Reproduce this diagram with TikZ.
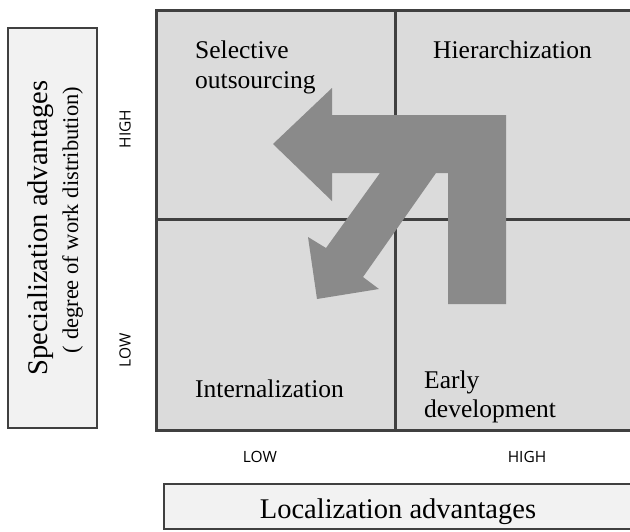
\documentclass[tikz,border=0pt]{standalone}
\usepackage{fontspec}
\setmainfont{Liberation Serif}
\newfontfamily\levelfont{Open Sans}
\usepackage{tikz}
\usetikzlibrary{positioning}

\begin{document}
\begin{tikzpicture}[x=1pt, y=-1pt,
    quadrant/.style = {draw=black!75, line width=2.6pt, fill=black!14, anchor=north west, inner sep=0pt},
    axisbox/.style = {draw=black!75, line width=2.6pt, fill=black!5, inner sep=0pt},
    quadlabel/.style = {anchor=base west, inner sep=0pt, font=\fontsize{25.5}{30}\selectfont},
    axistitle/.style = {anchor=base, inner sep=0pt, font=\fontsize{28.5}{34}\selectfont},
    axisnote/.style = {anchor=base, inner sep=0pt, font=\fontsize{22.5}{27}\selectfont},
    level/.style = {inner sep=0pt, font=\levelfont\fontsize{15.5}{18}\selectfont},
    bigarrow/.style = {fill=black!46}
]
\clip (0,0) rectangle (630,531);

% Quadrants
\node (selq) [quadrant, minimum width=239pt, minimum height=209pt] at (155, 9) {};
\node (hieq) [quadrant, minimum width=239pt, minimum height=209pt] at (394, 9) {};
\node (intq) [quadrant, minimum width=239pt, minimum height=211pt] at (155, 218) {};
\node (earq) [quadrant, minimum width=239pt, minimum height=211pt] at (394, 218) {};

% Movement between the strategies
\fill [bigarrow] (273, 144) -- (332, 88) -- (332, 115) -- (506, 115) -- (506, 304)
    -- (448, 304) -- (448, 173) -- (436, 173) -- (363, 277) -- (379, 289)
    -- (317, 299) -- (308, 237) -- (326, 248) -- (380, 173) -- (332, 173)
    -- (332, 201) -- cycle;

% Strategy labels
\node (sel1) [quadlabel] at (195, 58) {Selective};
\node (sel2) [quadlabel] at (195, 88) {outsourcing};
\node (hie) [quadlabel] at (433, 58) {Hierarchization};
\node (int) [quadlabel] at (195, 397) {Internalization};
\node (ear1) [quadlabel] at (424, 388) {Early};
\node (ear2) [quadlabel] at (424, 417) {development};

% Axes
\node (spec) [axisbox, minimum width=89pt, minimum height=400pt] at (52.5, 228) {};
\node (spect) [axistitle, rotate=90] at (47, 228) {Specialization advantages};
\node (specn) [axisnote, rotate=90] at (78, 220) {( degree of work distribution)};
\node (loc) [axisbox, minimum width=469pt, minimum height=45pt] at (398.5, 506.5) {};
\node (loct) [axistitle] at (398, 518) {Localization advantages};

% Levels
\node (yhigh) [level, rotate=90] at (125, 129) {HIGH};
\node (ylow) [level, rotate=90] at (125, 350) {LOW};
\node (xlow) [level] at (260, 457) {LOW};
\node (xhigh) [level] at (527, 457) {HIGH};

\end{tikzpicture}
\end{document}
